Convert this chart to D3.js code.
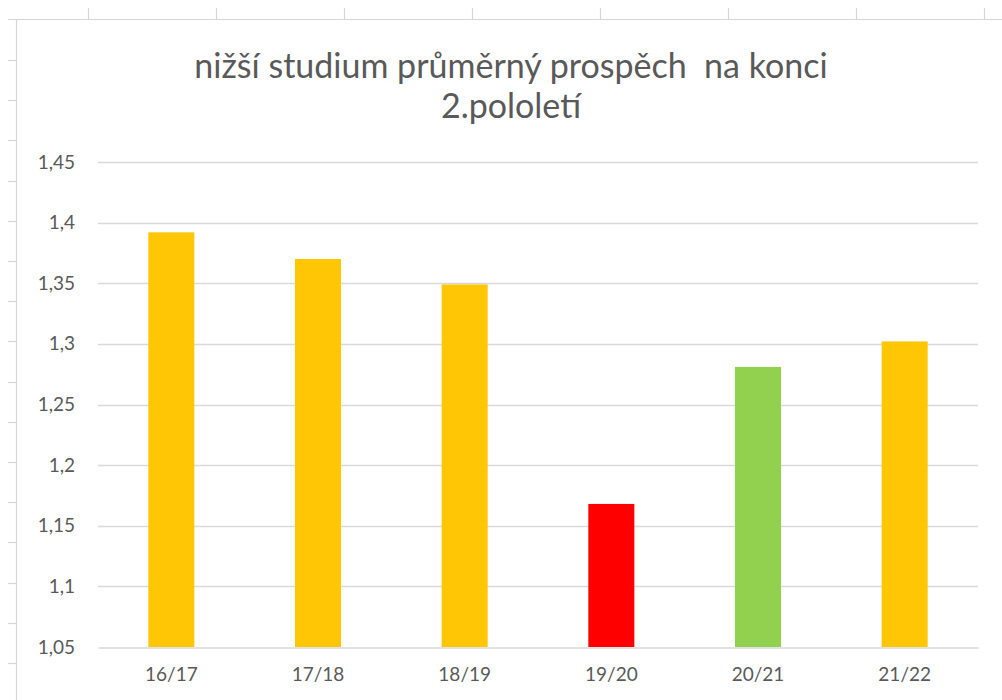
<!DOCTYPE html>
<html>
<head>
<meta charset="utf-8">
<script src="https://cdn.jsdelivr.net/npm/d3@7"></script>
<style>
  body { margin: 0; background: #fff; }
  svg { display: block; }
</style>
</head>
<body>
<div id="viz"></div>
<script>
// chart data
const categories = ["16/17", "17/18", "18/19", "19/20", "20/21", "21/22"];
const values = [1.392, 1.370, 1.349, 1.168, 1.281, 1.302];
const yTicks = [1.05, 1.1, 1.15, 1.2, 1.25, 1.3, 1.35, 1.4, 1.45];
const barColors = ["#FFC605", "#FFC605", "#FFC605", "#FF0000", "#92D050", "#FFC605"];
const titleLines = ["nižší studium průměrný prospěch  na konci", "2.pololetí"];

document.addEventListener("DOMContentLoaded", () => {
  const width = 1002;
  const height = 700;
  const font = "Lato, 'Open Sans', sans-serif";
  const textColor = "#595959";

  const svg = d3.select("#viz")
    .append("svg")
    .attr("width", width)
    .attr("height", height)
    .style("background-color", "#fff");

  // spreadsheet frame behind the chart
  const sheet = svg.append("g").attr("stroke", "#d6d6d6").attr("stroke-width", 1.2);
  sheet.append("line").attr("x1", 8).attr("x2", width).attr("y1", 19.5).attr("y2", 19.5);
  sheet.append("line").attr("x1", 16.5).attr("x2", 16.5).attr("y1", 19).attr("y2", height);
  sheet.selectAll(".ct").data(d3.range(88, width, 128)).enter().append("line")
    .attr("x1", d => d + 0.5).attr("x2", d => d + 0.5).attr("y1", 8).attr("y2", 19);
  sheet.selectAll(".rt").data(d3.range(60, height, 40.2)).enter().append("line")
    .attr("x1", 8).attr("x2", 16).attr("y1", d => Math.round(d) + 0.5).attr("y2", d => Math.round(d) + 0.5);

  const margin = { left: 98, right: 24, top: 162, bottom: 53 };

  const x = d3.scaleBand()
    .domain(categories)
    .range([margin.left, width - margin.right])
    .paddingInner(0.686)
    .paddingOuter(0.343);

  const y = d3.scaleLinear()
    .domain([1.05, 1.45])
    .range([height - margin.bottom, margin.top]);

  const color = d3.scaleOrdinal().domain(categories).range(barColors);

  const locale = d3.formatLocale({ decimal: ",", thousands: " ", grouping: [3], currency: ["", " Kč"] });
  const fmt = v => locale.format("~g")(+v.toFixed(2));

  // gridlines
  svg.append("g")
    .selectAll("line")
    .data(yTicks.slice(1))
    .enter()
    .append("line")
    .attr("x1", margin.left)
    .attr("x2", width - margin.right)
    .attr("y1", d => Math.round(y(d)) + 0.5)
    .attr("y2", d => Math.round(y(d)) + 0.5)
    .attr("stroke", "#d9d9d9")
    .attr("stroke-width", 1.3);

  // bars
  svg.append("g")
    .selectAll("rect")
    .data(values)
    .enter()
    .append("rect")
    .attr("x", (d, i) => x(categories[i]))
    .attr("width", x.bandwidth())
    .attr("y", d => y(d))
    .attr("height", d => y(1.05) - y(d))
    .attr("fill", (d, i) => color(categories[i]));

  // y axis (labels only)
  const yAxis = svg.append("g")
    .attr("transform", `translate(${margin.left},0)`)
    .call(d3.axisLeft(y).tickValues(yTicks).tickFormat(fmt).tickSize(0).tickPadding(23));
  yAxis.select(".domain").remove();
  yAxis.selectAll("text")
    .attr("fill", textColor)
    .style("font-family", font)
    .style("font-size", "19px");

  // x axis
  const xAxis = svg.append("g")
    .attr("transform", `translate(0,${Math.round(y(1.05)) + 0.5})`)
    .call(d3.axisBottom(x).tickSize(0).tickPadding(20));
  xAxis.select(".domain").attr("stroke", "#d9d9d9").attr("stroke-width", 1.3);
  xAxis.selectAll("text")
    .attr("fill", textColor)
    .style("font-family", font)
    .style("font-size", "19px");

  // title
  svg.append("g")
    .selectAll("text")
    .data(titleLines)
    .enter()
    .append("text")
    .attr("x", 511)
    .attr("y", (d, i) => 78 + i * 40)
    .attr("text-anchor", "middle")
    .attr("fill", textColor)
    .style("font-family", font)
    .style("font-size", "34px")
    .style("white-space", "pre")
    .text(d => d);
});
</script>
</body>
</html>
